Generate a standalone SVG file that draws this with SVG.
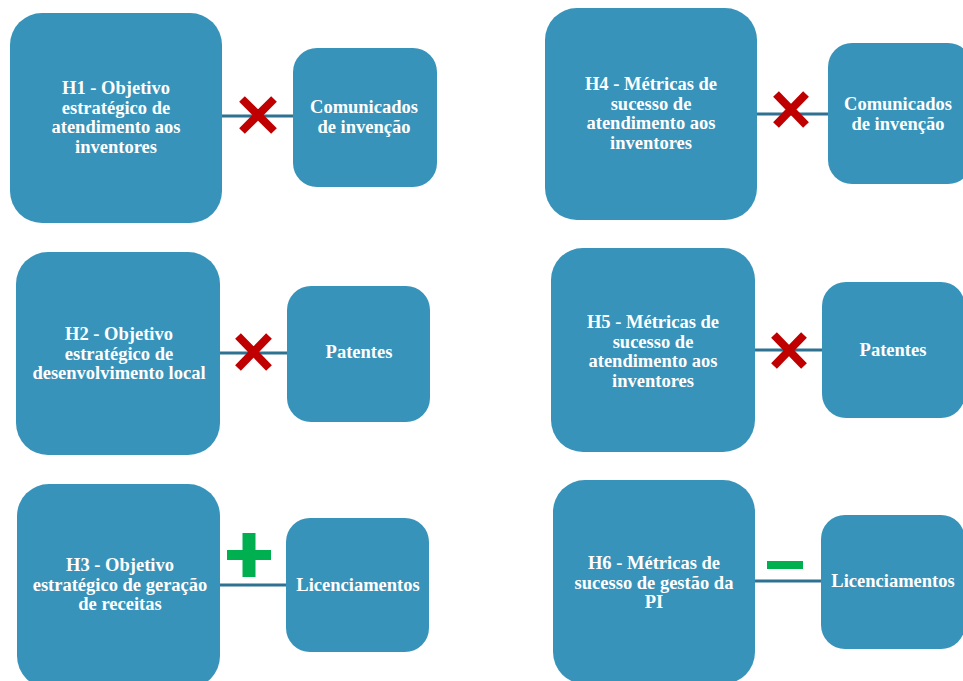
<svg xmlns="http://www.w3.org/2000/svg" width="963" height="681" viewBox="0 0 963 681">
<style>
.big{fill:#3793ba;}
.small{fill:#3793ba;}
.t{fill:#ffffff;font-family:"Liberation Serif","Times New Roman",serif;font-weight:bold;font-size:18.5px;text-anchor:middle;dominant-baseline:central;}
.ln{stroke:#2f7190;stroke-width:3;fill:none;}
.x{stroke:#c00000;stroke-width:8;fill:none;}
.g{fill:#00b050;}
</style>
<rect width="963" height="681" fill="#ffffff"/>
<g id="H1">
<rect class="big" x="10" y="13" width="212" height="210" rx="32"/>
<text class="t"><tspan x="116" y="88">H1 - Objetivo</tspan><tspan x="116" y="107.5">estratégico de</tspan><tspan x="116" y="127">atendimento aos</tspan><tspan x="116" y="146.5">inventores</tspan></text>
</g>
<g id="C1">
<rect class="small" x="293" y="48" width="144" height="139" rx="24"/>
<text class="t"><tspan x="364" y="107">Comunicados</tspan><tspan x="364" y="127">de invenção</tspan></text>
</g>
<g id="H4">
<rect class="big" x="545" y="8" width="212" height="212" rx="32"/>
<text class="t"><tspan x="651" y="84">H4 - Métricas de</tspan><tspan x="651" y="103.5">sucesso de</tspan><tspan x="651" y="123">atendimento aos</tspan><tspan x="651" y="142.5">inventores</tspan></text>
</g>
<g id="C2">
<rect class="small" x="828" y="43" width="144" height="141" rx="24"/>
<text class="t"><tspan x="898" y="104">Comunicados</tspan><tspan x="898" y="124">de invenção</tspan></text>
</g>
<g id="H2">
<rect class="big" x="16" y="252" width="204" height="203" rx="32"/>
<text class="t"><tspan x="119" y="334">H2 - Objetivo</tspan><tspan x="119" y="353.5">estratégico de</tspan><tspan x="119" y="373">desenvolvimento local</tspan></text>
</g>
<g id="P1">
<rect class="small" x="287" y="286" width="143" height="136" rx="24"/>
<text class="t" x="359" y="352">Patentes</text>
</g>
<g id="H5">
<rect class="big" x="551" y="248" width="204" height="204" rx="32"/>
<text class="t"><tspan x="653" y="322">H5 - Métricas de</tspan><tspan x="653" y="341.5">sucesso de</tspan><tspan x="653" y="361">atendimento aos</tspan><tspan x="653" y="380.5">inventores</tspan></text>
</g>
<g id="P2">
<rect class="small" x="822" y="282" width="143" height="136" rx="24"/>
<text class="t" x="893" y="350">Patentes</text>
</g>
<g id="H3">
<rect class="big" x="17" y="484" width="203" height="204" rx="32"/>
<text class="t"><tspan x="120" y="565">H3 - Objetivo</tspan><tspan x="120" y="584.5">estratégico de geração</tspan><tspan x="120" y="604">de receitas</tspan></text>
</g>
<g id="L1">
<rect class="small" x="286" y="518" width="143" height="134" rx="24"/>
<text class="t" x="358" y="585">Licenciamentos</text>
</g>
<g id="H6">
<rect class="big" x="553" y="480" width="202" height="204" rx="32"/>
<text class="t"><tspan x="654" y="563">H6 - Métricas de</tspan><tspan x="654" y="582.5">sucesso de gestão da</tspan><tspan x="654" y="602">PI</tspan></text>
</g>
<g id="L2">
<rect class="small" x="821" y="515" width="144" height="134" rx="24"/>
<text class="t" x="893" y="581">Licenciamentos</text>
</g>
<g id="connectors">
<line class="ln" x1="222" y1="116" x2="293" y2="116"/>
<line class="ln" x1="757" y1="114" x2="828" y2="114"/>
<line class="ln" x1="220" y1="353" x2="287" y2="353"/>
<line class="ln" x1="755" y1="350" x2="822" y2="350"/>
<line class="ln" x1="220" y1="585" x2="286" y2="585"/>
<line class="ln" x1="755" y1="581" x2="821" y2="581"/>
<path class="x" d="M242 99 L274 131 M274 99 L242 131"/>
<path class="x" d="M776 94 L806 125 M806 94 L776 125"/>
<path class="x" d="M238 336 L269 368 M269 336 L238 368"/>
<path class="x" d="M774 335 L804 366 M804 335 L774 366"/>
<rect class="g" x="242.5" y="533" width="13" height="44"/>
<rect class="g" x="227" y="550" width="44" height="10"/>
<rect class="g" x="767" y="561" width="36" height="8"/>
</g>
</svg>
